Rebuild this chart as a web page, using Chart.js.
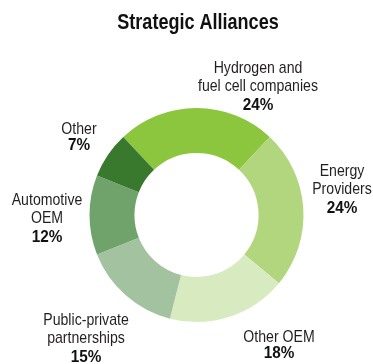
<!DOCTYPE html>
<html>
<head>
<meta charset="utf-8">
<script src="https://cdn.jsdelivr.net/npm/chart.js@4/dist/chart.umd.min.js"></script>
<style>
  html, body { margin: 0; padding: 0; background: #ffffff; }
  #wrap { width: 373px; height: 364px; position: relative; }
</style>
</head>
<body>
<div id="wrap"><canvas id="c" width="373" height="364"></canvas></div>
<script>
// Share of strategic alliances by partner type (percent)
const categories = [
  ["Hydrogen and", "fuel cell companies"],
  ["Energy", "Providers"],
  ["Other OEM"],
  ["Public-private", "partnerships"],
  ["Automotive", "OEM"],
  ["Other"]
];
const shares = [24, 24, 18, 15, 12, 7];
const colors = ["#8cc63f", "#b1d67d", "#d8ebc0", "#a3c3a0", "#6fa36b", "#38792d"];
const titleText = "Strategic Alliances";

// Label anchor points (centre x, first-line y) around the ring
const labelPos = [
  [258, 68], [342, 171], [279, 337], [86, 320], [47, 200], [79, 129]
];

const labelFont = '"Liberation Sans", Arial, sans-serif';

// Draws a horizontally condensed line of text centred on (x, y)
function narrowText(ctx, text, x, y, sx) {
  ctx.save();
  ctx.translate(x, y);
  ctx.scale(sx, 1);
  ctx.fillText(text, 0, 0);
  ctx.restore();
}

const textPlugin = {
  id: 'ringText',
  afterDraw(chart) {
    const ctx = chart.ctx;
    ctx.save();
    ctx.textAlign = 'center';
    ctx.textBaseline = 'middle';
    ctx.fillStyle = '#111111';
    ctx.font = 'bold 22px ' + labelFont;
    narrowText(ctx, titleText, 198, 23, 0.82);
    const lh = 18.5;
    categories.forEach((lines, i) => {
      const [x, y] = labelPos[i];
      ctx.fillStyle = '#231f20';
      ctx.font = '17px ' + labelFont;
      lines.forEach((ln, j) => narrowText(ctx, ln, x, y + j * lh, 0.83));
      ctx.fillStyle = '#111111';
      ctx.font = 'bold 17px ' + labelFont;
      const py = lines.length === 1 ? y + 16.5 : y + lines.length * lh;
      narrowText(ctx, shares[i] + '%', x, py, 0.9);
    });
    ctx.restore();
  }
};

new Chart(document.getElementById('c'), {
  type: 'doughnut',
  data: {
    labels: categories.map(l => l.join(' ')),
    datasets: [{
      data: shares,
      backgroundColor: colors,
      borderWidth: 0,
      hoverOffset: 0
    }]
  },
  options: {
    responsive: false,
    animation: false,
    cutout: '58%',
    rotation: -43.2,
    layout: { padding: { left: 89.5, right: 69.5, top: 108, bottom: 42 } },
    plugins: {
      legend: { display: false },
      title: { display: false },
      tooltip: { enabled: false }
    }
  },
  plugins: [textPlugin]
});
</script>
</body>
</html>
